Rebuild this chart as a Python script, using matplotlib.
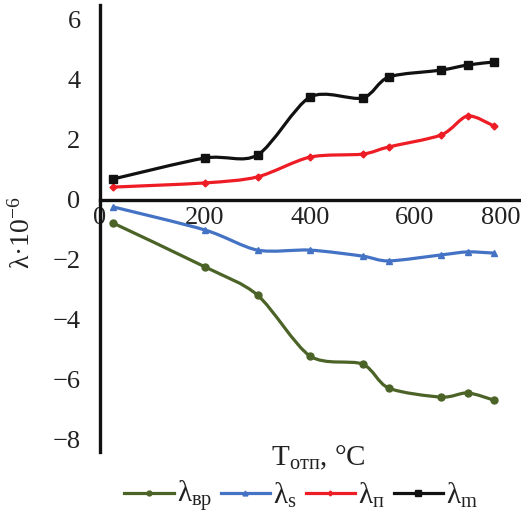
import numpy as np
import matplotlib
matplotlib.use("Agg")
import matplotlib.pyplot as plt
from matplotlib.path import Path
from matplotlib.patches import PathPatch
from matplotlib.lines import Line2D

plt.rcParams['font.family'] = ['Liberation Serif', 'DejaVu Serif']
plt.rcParams['mathtext.fontset'] = 'custom'
plt.rcParams['mathtext.rm'] = 'Liberation Serif'
plt.rcParams['mathtext.it'] = 'Liberation Serif:italic'

# tempering temperature, °C
temps = [25, 200, 300, 400, 500, 550, 650, 700, 750]

lam_vr = [-0.77, -2.23, -3.17, -5.2, -5.47, -6.27, -6.57, -6.43, -6.67]
lam_s = [-0.23, -1.0, -1.67, -1.67, -1.87, -2.03, -1.83, -1.73, -1.77]
lam_p = [0.43, 0.57, 0.77, 1.43, 1.53, 1.77, 2.17, 2.8, 2.47]
lam_m = [0.7, 1.4, 1.5, 3.43, 3.4, 4.1, 4.33, 4.5, 4.6]

x_ticks = [0, 200, 400, 600, 800]
y_ticks = [-8, -6, -4, -2, 0, 2, 4, 6]

series = [
    (lam_vr, '#4b6327', 'o', 5, 'λ$_\\mathrm{вр}$'),
    (lam_s, '#4472c4', '^', 5, 'λ$_\\mathrm{s}$'),
    (lam_p, '#ee1c24', 'D', 3.5, 'λ$_\\mathrm{п}$'),
    (lam_m, '#111111', 's', 5.5, 'λ$_\\mathrm{m}$'),
]


def smooth_path(x, y):
    # excel-like smoothed line (Catmull-Rom as cubic bezier)
    pts = np.column_stack([x, y]).astype(float)
    verts = [pts[0]]
    codes = [Path.MOVETO]
    n = len(pts)
    for i in range(n - 1):
        p0 = pts[max(i - 1, 0)]
        p1 = pts[i]
        p2 = pts[i + 1]
        p3 = pts[min(i + 2, n - 1)]
        c1 = p1 + (p2 - p0) / 7.0
        c2 = p2 - (p3 - p1) / 7.0
        verts += [c1, c2, p2]
        codes += [Path.CURVE4] * 3
    return Path(verts, codes)


fig = plt.figure(figsize=(5.21, 5.21), dpi=100)
ax = fig.add_axes([100 / 521, (521 - 452) / 521, 420 / 521, 447 / 521])

handles = []
for vals, color, mk, ms, label in series:
    ax.add_patch(PathPatch(smooth_path(temps, vals), fill=False,
                           edgecolor=color, lw=2.3, zorder=3))
    ax.plot(temps, vals, ls='none', marker=mk, ms=ms, color=color, zorder=4)
    handles.append(Line2D([], [], color=color, lw=2.3, marker=mk,
                          ms=ms * 0.7, label=label))

ax.set_xlim(0, 800)
ax.set_ylim(-8.4, 6.5)

ax.spines['top'].set_visible(False)
ax.spines['right'].set_visible(False)
ax.spines['bottom'].set_position(('data', 0))
ax.spines['left'].set_linewidth(2.4)
ax.spines['bottom'].set_linewidth(2.4)
ax.spines['left'].set_color('#111111')
ax.spines['bottom'].set_color('#111111')

ax.set_xticks(x_ticks)
ax.set_yticks(y_ticks)
ax.set_xticklabels([str(t) for t in x_ticks])
ax.set_yticklabels([str(t).replace('-', '\u2212') for t in y_ticks])
ax.tick_params(axis='both', length=0, labelsize=19, colors='#222222')
ax.tick_params(axis='x', pad=5)
ax.tick_params(axis='y', pad=14)
ax.get_xticklabels()[-1].set_horizontalalignment('right')

fig.text(318 / 521, 1 - 458 / 521, 'T$_\\mathrm{отп}$, °C', fontsize=21,
         ha='center', va='center', color='#222222')
fig.text(22 / 521, 1 - 233 / 521, 'λ·10$^{\u22126}$', fontsize=20,
         rotation=90, ha='center', va='center', color='#222222')

fig.legend(handles=handles, loc='center', bbox_to_anchor=(301 / 521, 1 - 497 / 521),
           ncol=4, frameon=False, fontsize=21, handlelength=1.7,
           handletextpad=0.1, columnspacing=0.3, labelcolor='#222222')

fig.savefig('out.png', dpi=100)
